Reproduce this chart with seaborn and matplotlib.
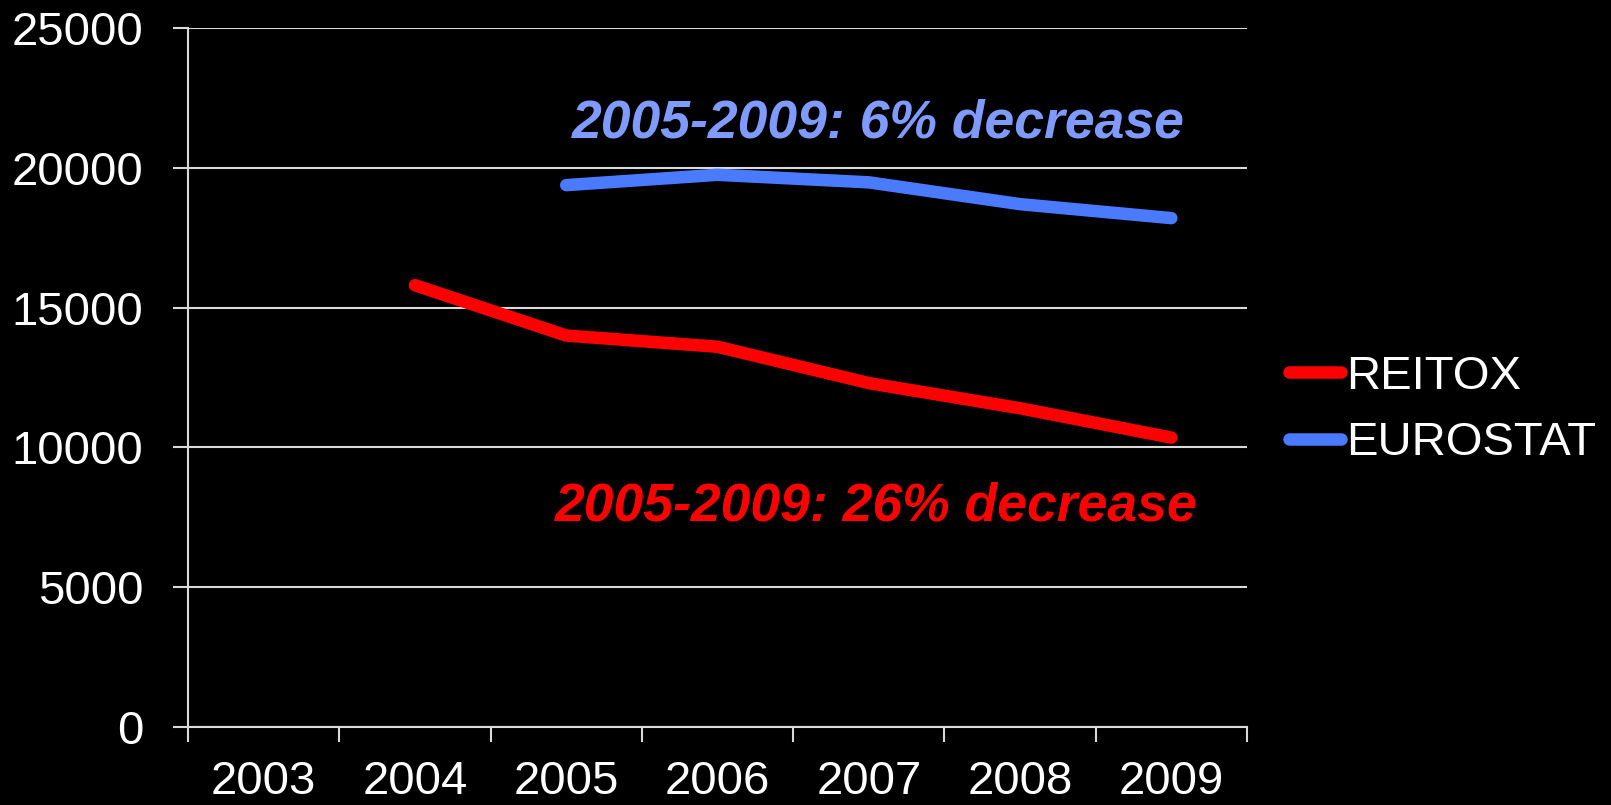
import numpy as np
import pandas as pd
import matplotlib
matplotlib.use("Agg")
import matplotlib.pyplot as plt
import seaborn as sns

# Category labels and series values
years = ["2003", "2004", "2005", "2006", "2007", "2008", "2009"]
reitox = [np.nan, 15800, 14000, 13600, 12300, 11400, 10350]
eurostat = [np.nan, np.nan, 19380, 19750, 19480, 18700, 18200]
series_names = ["REITOX", "EUROSTAT"]
y_ticks = [0, 5000, 10000, 15000, 20000, 25000]

reitox_note = "2005-2009: 26% decrease"
eurostat_note = "2005-2009: 6% decrease"

sns.set_theme(style="dark")
plt.rcParams["font.family"] = ["Liberation Sans", "DejaVu Sans"]

red = "#FF0000"
blue = "#4A7BFF"
blue_text = "#809BFF"
grid_col = "#DADADA"
line_w = 9

idx = np.arange(len(years))
df = pd.DataFrame({
    "pos": np.concatenate([idx, idx]),
    "value": reitox + eurostat,
    "series": [series_names[0]] * len(years) + [series_names[1]] * len(years),
}).dropna()

fig = plt.figure(figsize=(16.11, 8.05), dpi=100, facecolor="black")
ax = fig.add_axes([188 / 1611, 1 - 727 / 805, (1247 - 188) / 1611, 699 / 805])
ax.set_facecolor("black")

sns.lineplot(data=df, x="pos", y="value", hue="series",
             palette={series_names[0]: red, series_names[1]: blue},
             hue_order=series_names, linewidth=line_w, solid_capstyle="round",
             legend=False, ax=ax, zorder=3)

ax.set_xlim(-0.5, len(years) - 0.5)
ax.set_ylim(0, 25000)

# Horizontal gridlines
ax.set_yticks(y_ticks)
ax.set_yticklabels([str(v) for v in y_ticks])
ax.yaxis.grid(True, color=grid_col, linewidth=1.5)
ax.xaxis.grid(False)

# Category axis: tick marks on the boundaries, labels at the centers
ax.set_xticks(np.arange(-0.5, len(years), 1.0))
ax.set_xticklabels([""] * (len(years) + 1))
ax.set_xticks(idx, minor=True)
ax.set_xticklabels(years, minor=True)
ax.tick_params(axis="x", which="major", direction="out", length=10.5,
               width=1.5, color=grid_col, bottom=True)
ax.tick_params(axis="x", which="minor", length=0, pad=23.5,
               labelsize=34, labelcolor="white", bottom=True)
ax.tick_params(axis="y", direction="out", length=11, width=1.5,
               color=grid_col, pad=21, labelsize=34, labelcolor="white",
               left=True)
ax.set_xlabel("")
ax.set_ylabel("")

for side in ["top", "right"]:
    ax.spines[side].set_visible(False)
for side in ["left", "bottom"]:
    ax.spines[side].set_visible(True)
    ax.spines[side].set_color(grid_col)
    ax.spines[side].set_linewidth(1.5)

# Change annotations
ax.text(4.06, 21070, eurostat_note, color=blue_text, fontsize=38.5,
        fontweight="bold", fontstyle="italic", ha="center", va="baseline")
ax.text(4.05, 7390, reitox_note, color=red, fontsize=38.5,
        fontweight="bold", fontstyle="italic", ha="center", va="baseline")

# Legend
lines = ax.get_lines()[:2]
leg = fig.legend(lines, series_names, loc="center left",
                 bbox_to_anchor=(1289 / 1611, 1 - 410 / 805),
                 frameon=False, fontsize=34, handlelength=1.1,
                 handletextpad=0.1, labelspacing=0.48, borderpad=0,
                 borderaxespad=0)
for t in leg.get_texts():
    t.set_color("white")
for h in leg.get_lines():
    h.set_linewidth(line_w)
    h.set_solid_capstyle("round")

fig.savefig("out.png", dpi=100, facecolor="black")
